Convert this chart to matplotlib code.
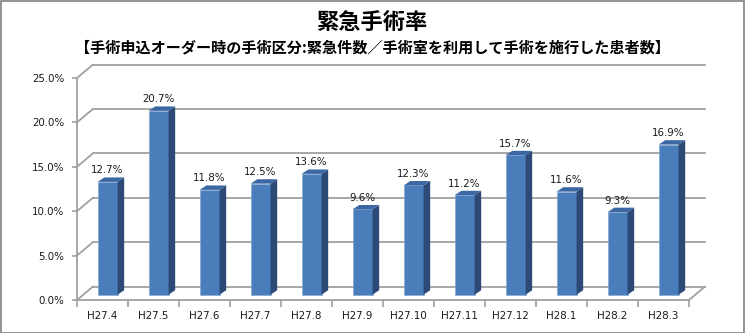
import matplotlib.pyplot as plt
from matplotlib.patches import Polygon, Rectangle

plt.rcParams['font.family'] = ['DejaVu Sans']

# ==========================
# DATA
# ==========================

months = ["H27.4", "H27.5", "H27.6", "H27.7", "H27.8", "H27.9",
          "H27.10", "H27.11", "H27.12", "H28.1", "H28.2", "H28.3"]
rates = [12.7, 20.7, 11.8, 12.5, 13.6, 9.6, 12.3, 11.2, 15.7, 11.6, 9.3, 16.9]
y_ticks = [0, 5, 10, 15, 20, 25]

title = "緊急手術率"
subtitle = "【手術申込オーダー時の手術区分:緊急件数／手術室を利用して手術を施行した患者数】"

# 3d look (in data units)
WALL_DX, WALL_DY = 0.31, 1.5
BAR_DX, BAR_DY = 0.13, 0.5
BAR_W = 0.39
BAR_SHIFT = 0.1
BAR_BASE = 0.6

FRONT = "#4a7ebb"
SIDE = "#2c4a75"
TOP = "#3b68a2"
GRID = "#a0a0a0"
JP = ['Noto Sans CJK JP', 'DejaVu Sans']

# ==========================
# FIGURE
# ==========================

W, H = 745, 333
fig = plt.figure(figsize=(W / 100, H / 100), dpi=100)
fig.patches.append(Rectangle((0.5 / W, 0.5 / H), 1 - 1.5 / W, 1 - 1.5 / H,
                             transform=fig.transFigure, fill=False,
                             edgecolor="#808080", linewidth=1.2))

ax = fig.add_axes([77 / W, (H - 300) / H, 612 / W, 222 / H])
ax.set_xlim(0, len(months))
ax.set_ylim(0, 25)
ax.patch.set_alpha(0)

for s in ["top", "right"]:
    ax.spines[s].set_visible(False)
for s in ["left", "bottom"]:
    ax.spines[s].set_color(GRID)
    ax.spines[s].set_linewidth(1.3)

n = len(months)

# back wall gridlines + left wall diagonals
for t in y_ticks:
    ax.plot([WALL_DX, n + WALL_DX], [t + WALL_DY, t + WALL_DY],
            color=GRID, lw=1.3, clip_on=False, zorder=1)
    ax.plot([0, WALL_DX], [t, t + WALL_DY],
            color=GRID, lw=1.3, clip_on=False, zorder=1)
# floor right edge
ax.plot([n, n + WALL_DX], [0, WALL_DY], color=GRID, lw=1.3,
        clip_on=False, zorder=1)

# bars
xs = [i + 0.5 + BAR_SHIFT for i in range(n)]
ax.bar(xs, rates, width=BAR_W, bottom=BAR_BASE, color=FRONT,
       edgecolor="#7fa3d3", linewidth=0.4, zorder=3)

for x, v in zip(xs, rates):
    r = x + BAR_W / 2
    l = x - BAR_W / 2
    top = BAR_BASE + v
    ax.add_patch(Polygon([(r, BAR_BASE), (r + BAR_DX, BAR_BASE + BAR_DY),
                          (r + BAR_DX, top + BAR_DY), (r, top)],
                         closed=True, facecolor=SIDE, edgecolor="none",
                         zorder=3))
    ax.add_patch(Polygon([(l, top), (l + BAR_DX, top + BAR_DY),
                          (r + BAR_DX, top + BAR_DY), (r, top)],
                         closed=True, facecolor=TOP, edgecolor="none",
                         zorder=3))
    ax.annotate(f"{v:.1f}%", (x, top + BAR_DY), xytext=(0, 1.5),
                textcoords="offset points", ha="center", va="bottom",
                fontsize=7.4, color="#1a1a1a", zorder=4)

# axes ticks
ax.set_yticks(y_ticks)
ax.set_yticklabels([f"{t:.1f}%" for t in y_ticks])
ax.tick_params(axis="y", length=3.5, width=1.2, color=GRID, pad=5.5,
               labelsize=7.4, labelcolor="#1a1a1a")

ax.set_xticks(range(n + 1))
ax.set_xticklabels([])
ax.tick_params(axis="x", which="major", length=5, width=1.2, color=GRID)
ax.set_xticks([i + 0.5 for i in range(n)], minor=True)
ax.set_xticklabels(months, minor=True)
ax.tick_params(axis="x", which="minor", length=0, pad=8,
               labelsize=7.4, labelcolor="#1a1a1a")

# titles
fig.text(372 / W, 1 - 22 / H, title, ha="center", va="center",
         fontsize=16, fontweight="bold", family=JP)
fig.text(372 / W, 1 - 47 / H, subtitle, ha="center", va="center",
         fontsize=10.9, fontweight="bold", family=JP)

fig.savefig("out.png", dpi=100)
